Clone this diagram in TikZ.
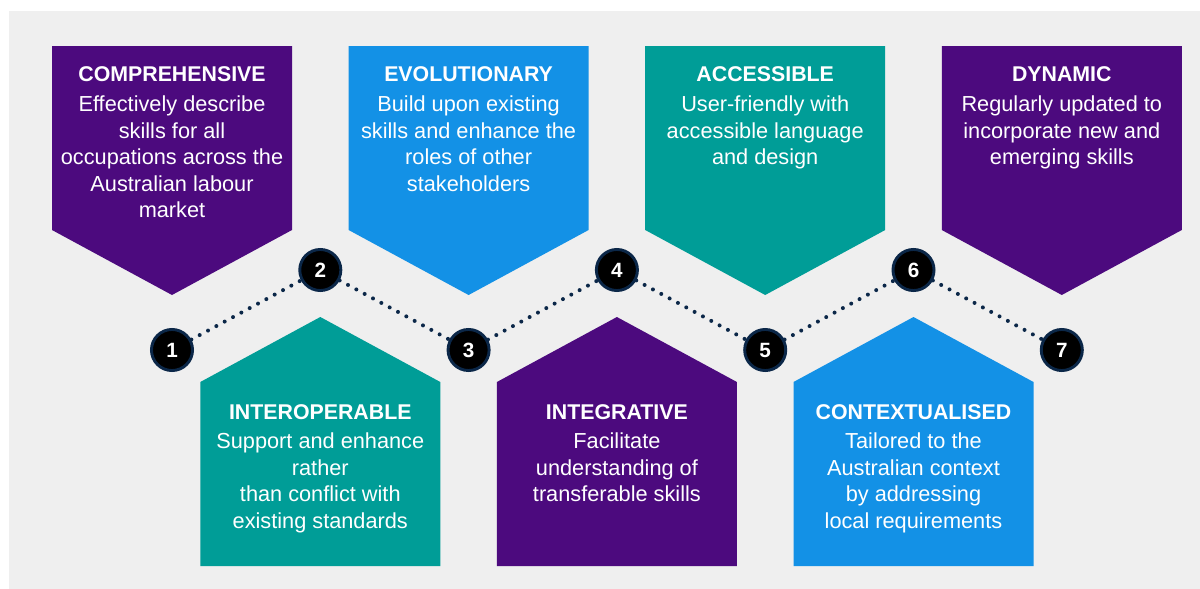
\documentclass[tikz,border=0pt]{standalone}
\usepackage{fontspec}
\setmainfont{Liberation Sans}
\usepackage{xcolor}
\usetikzlibrary{positioning}
\definecolor{skpurple}{HTML}{4C0A7E}
\definecolor{skblue}{HTML}{1391E6}
\definecolor{skteal}{HTML}{009D97}
\definecolor{sknavy}{HTML}{0B2748}
\definecolor{skgrey}{HTML}{EFEFEF}
\tikzset{
  head/.style={text=white,font=\bfseries\fontsize{16}{19.9}\selectfont,inner sep=0pt,anchor=base},
  blurb/.style={text=white,font=\fontsize{16.3}{19.9}\selectfont,align=center,inner sep=0pt,below=10pt of #1},
  numdot/.style={circle,fill=black,draw=sknavy,line width=2.2pt,minimum size=30.8pt,inner sep=0pt,
    text=white,font=\bfseries\fontsize{15.5}{15.5}\selectfont},
  trail/.style={sknavy,line width=3pt,line cap=round,dash pattern=on 0pt off 7.1pt}
}

\begin{document}
\begin{tikzpicture}[x=0.75pt,y=-0.75pt]
    \useasboundingbox (0,0) rectangle (1200,589);
    \fill[skgrey] (9,11) rectangle (1200,589);
    \foreach \x/\col/\key/\hd/\desc in {
      172/skpurple/comp/COMPREHENSIVE/{Effectively describe\\skills for all\\occupations across the\\Australian labour\\market},
      468.6/skblue/evol/EVOLUTIONARY/{Build upon existing\\skills and enhance the\\roles of other\\stakeholders},
      765.2/skteal/access/ACCESSIBLE/{User-friendly with\\accessible language\\and design},
      1061.8/skpurple/dyn/DYNAMIC/{Regularly updated to\\incorporate new and\\emerging skills}}
    {
    \fill[\col] (\x-120,46) -- (\x+120,46) -- (\x+120,230) -- (\x,295) -- (\x-120,230) -- cycle;
    \node[head] (\key) at (\x,81.7) {\hd};
    \node[blurb=\key] (\key-desc) {\desc};
    }
    \foreach \x/\col/\key/\hd/\desc in {
      320.3/skteal/inter/INTEROPERABLE/{Support and enhance\\rather\\than conflict with\\existing standards},
      616.9/skpurple/integ/INTEGRATIVE/{Facilitate\\understanding of\\transferable skills},
      913.5/skblue/context/CONTEXTUALISED/{Tailored to the\\Australian context\\by addressing\\local requirements}}
    {
    \fill[\col] (\x-120,566) -- (\x-120,382) -- (\x,317) -- (\x+120,382) -- (\x+120,566) -- cycle;
    \node[head] (\key) at (\x,419) {\hd};
    \node[blurb=\key] (\key-desc) {\desc};
    }
    \foreach \i/\x/\y in {1/172/350,2/320.3/270,3/468.6/350,4/616.9/270,5/765.2/350,6/913.5/270,7/1061.8/350}
    \node[numdot] (n\i) at (\x,\y) {\i};
    \foreach \a/\b in {1/2,2/3,3/4,4/5,5/6,6/7}
    \draw[trail] (n\a) -- (n\b);
  \end{tikzpicture}
\end{document}
